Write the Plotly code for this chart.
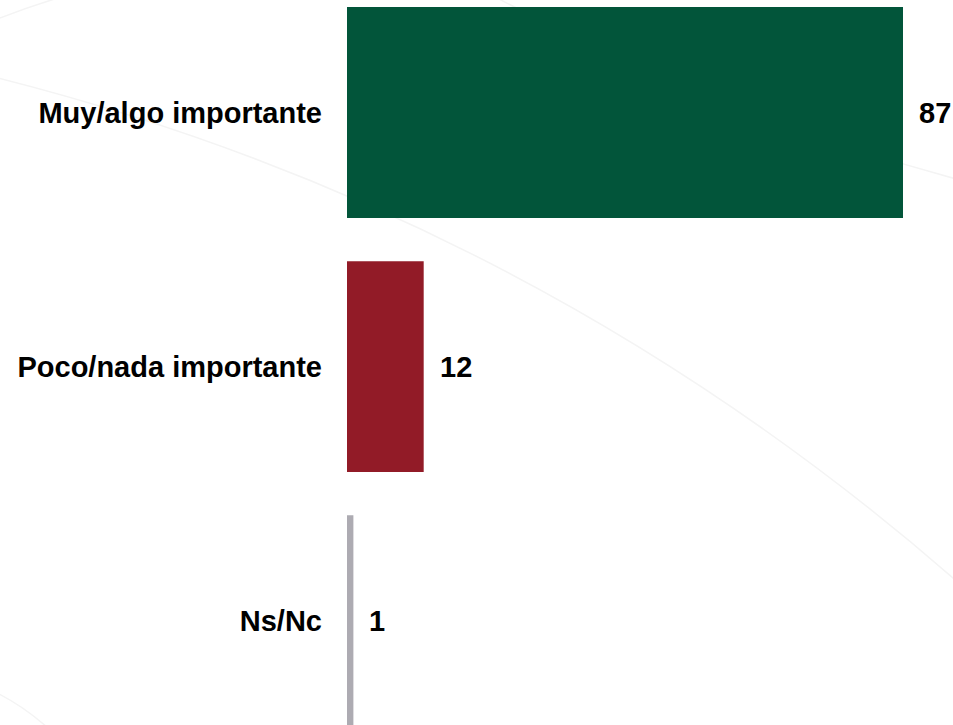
import plotly.graph_objects as go

categories = ["Muy/algo importante", "Poco/nada importante", "Ns/Nc"]
values = [87, 12, 1]
colors = ["#02553A", "#921B27", "#ADABB2"]

W, H = 953, 725
ML, MR, MT, MB = 347, 50, 0, 0
FONT = "Liberation Sans, Arial, sans-serif"

fig = go.Figure()
fig.add_trace(go.Bar(
    x=values, y=categories, orientation="h",
    marker=dict(color=colors, line=dict(width=0)),
    width=0.83, hoverinfo="skip",
))

for c, v in zip(categories, values):
    fig.add_annotation(x=v, y=c, xref="x", yref="y", text=f"<b>{v}</b>",
                       showarrow=False, xanchor="left", yanchor="middle",
                       xshift=14, font=dict(size=29, color="#000000", family=FONT))


# faint decorative background arcs (pixel positions -> paper coords)
def P(x, y):
    pw = W - ML - MR
    ph = H - MT - MB
    return f"{(x - ML) / pw:.4f} {1 - (y - MT) / ph:.4f}"


arc_color = "#f4f4f4"
arcs = [
    f"M {P(-10, 76)} Q {P(535, 212)} {P(960, 584)}",
    f"M {P(497, -2)} Q {P(720, 115)} {P(960, 180)}",
    f"M {P(-5, 20)} Q {P(25, 8)} {P(58, -2)}",
    f"M {P(-5, 692)} Q {P(22, 705)} {P(48, 728)}",
]
shapes = [dict(type="path", xref="paper", yref="paper", layer="below",
               path=p, line=dict(color=arc_color, width=1.5)) for p in arcs]

fig.update_layout(
    width=W, height=H,
    margin=dict(l=ML, r=MR, t=MT, b=MB),
    paper_bgcolor="#ffffff", plot_bgcolor="rgba(0,0,0,0)",
    showlegend=False,
    font=dict(family=FONT, size=29, color="#000000"),
    xaxis=dict(range=[0, 87], visible=False, fixedrange=True),
    yaxis=dict(range=[2.411, -0.443], showgrid=False, zeroline=False,
               showline=False, ticks="", ticklabelstandoff=24, fixedrange=True,
               tickfont=dict(size=29, color="#000000", family=FONT),
               tickvals=categories,
               ticktext=[f"<b>{c}</b>" for c in categories]),
    shapes=shapes,
)

fig.write_html("out.html", config={"displayModeBar": False},
               post_script="document.body.style.margin='0';")
